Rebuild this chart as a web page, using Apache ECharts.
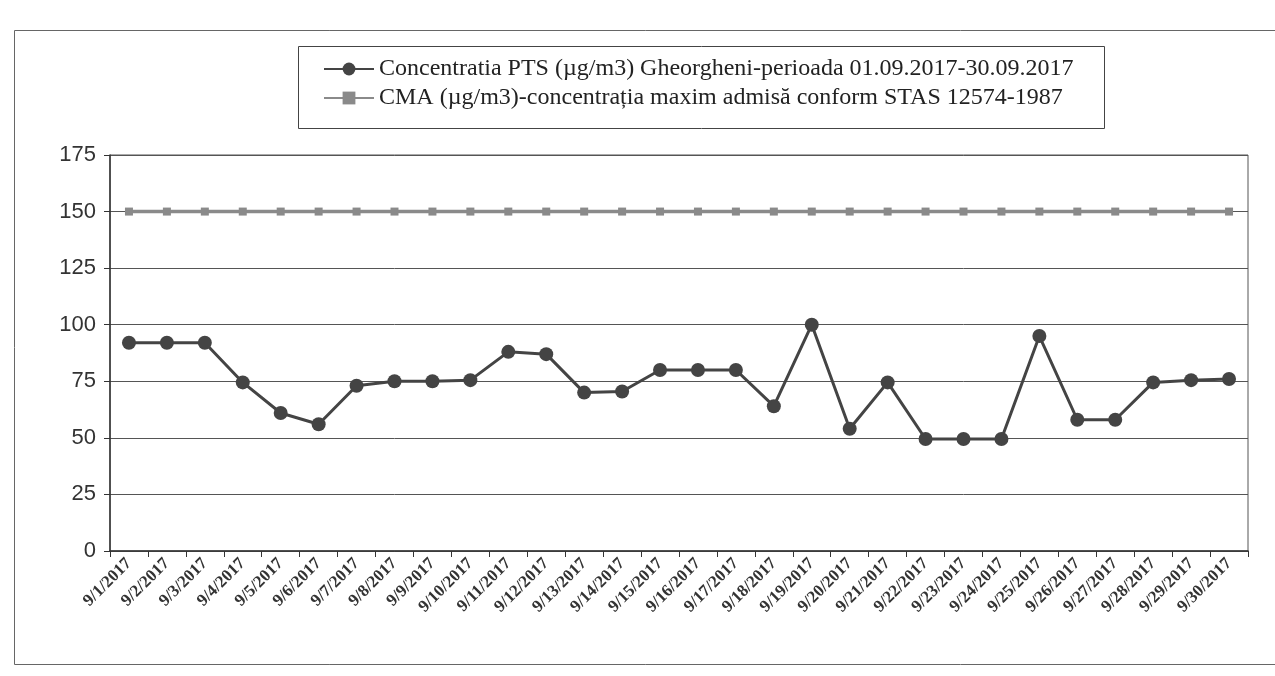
<!DOCTYPE html>
<html>
<head>
<meta charset="utf-8">
<script src="https://cdn.jsdelivr.net/npm/echarts@6/dist/echarts.min.js"></script>
<style>html,body{margin:0;padding:0;background:#fff;}#c{width:1275px;height:676px;}</style>
</head>
<body>
<div id="c"></div>
<script>
const categories = ['9/1/2017','9/2/2017','9/3/2017','9/4/2017','9/5/2017','9/6/2017','9/7/2017','9/8/2017','9/9/2017','9/10/2017','9/11/2017','9/12/2017','9/13/2017','9/14/2017','9/15/2017','9/16/2017','9/17/2017','9/18/2017','9/19/2017','9/20/2017','9/21/2017','9/22/2017','9/23/2017','9/24/2017','9/25/2017','9/26/2017','9/27/2017','9/28/2017','9/29/2017','9/30/2017'];
const ptsValues = [92, 92, 92, 74.5, 61, 56, 73, 75, 75, 75.5, 88, 87, 70, 70.5, 80, 80, 80, 64, 100, 54, 74.5, 49.5, 49.5, 49.5, 95, 58, 58, 74.5, 75.5, 76];
const cmaValues = [150,150,150,150,150,150,150,150,150,150,150,150,150,150,150,150,150,150,150,150,150,150,150,150,150,150,150,150,150,150];
const ptsName = 'Concentratia PTS (µg/m3) Gheorgheni-perioada 01.09.2017-30.09.2017';
const cmaName = 'CMA (µg/m3)-concentrația maxim admisă conform STAS 12574-1987';
const yTicks = [0, 25, 50, 75, 100, 125, 150, 175];

const chart = echarts.init(document.getElementById('c'));
chart.setOption({
  backgroundColor: '#fff',
  animation: false,
  graphic: [
    { type: 'rect', left: 12, top: 28, shape: { width: 1262, height: 634 }, style: { fill: 'none', stroke: '#666', lineWidth: 1 } },
    { type: 'rect', left: 296, top: 44, shape: { width: 806, height: 82 }, style: { fill: 'none', stroke: '#444', lineWidth: 1 }, z: 10 }
  ],
  legend: {
    orient: 'vertical',
    left: 318,
    top: 52,
    itemGap: 5,
    itemWidth: 50,
    itemHeight: 16,
    textStyle: { fontFamily: 'Liberation Serif', fontSize: 24, color: '#222' },
    data: [ptsName, cmaName]
  },
  grid: { left: 110, right: 27, top: 155, bottom: 125, show: true, borderColor: '#555', borderWidth: 1 },
  xAxis: {
    type: 'category',
    data: categories,
    boundaryGap: true,
    axisLine: { lineStyle: { color: '#333', width: 1.5 } },
    axisTick: { show: true, alignWithLabel: false, length: 6, lineStyle: { color: '#333' } },
    axisLabel: { interval: 0, rotate: 45, fontFamily: 'Liberation Serif', fontWeight: 'bold', fontSize: 17, color: '#333', margin: 10 }
  },
  yAxis: {
    type: 'value',
    min: 0, max: 175, interval: 25,
    axisLine: { show: true, lineStyle: { color: '#333', width: 1.5 } },
    axisTick: { show: true, length: 6, lineStyle: { color: '#333' } },
    axisLabel: { fontFamily: 'Liberation Sans', fontSize: 22, color: '#333', margin: 14,
      formatter: v => yTicks.includes(v) ? String(v) : '' },
    splitLine: { lineStyle: { color: '#555', width: 1 } }
  },
  series: [
    {
      name: ptsName, type: 'line', data: ptsValues,
      symbol: 'circle', symbolSize: 14,
      lineStyle: { color: '#444', width: 3 },
      itemStyle: { color: '#444' }
    },
    {
      name: cmaName, type: 'line', data: cmaValues,
      symbol: 'rect', symbolSize: 8,
      lineStyle: { color: '#8a8a8a', width: 3.5 },
      itemStyle: { color: '#8a8a8a' }
    }
  ]
});
</script>
</body>
</html>
